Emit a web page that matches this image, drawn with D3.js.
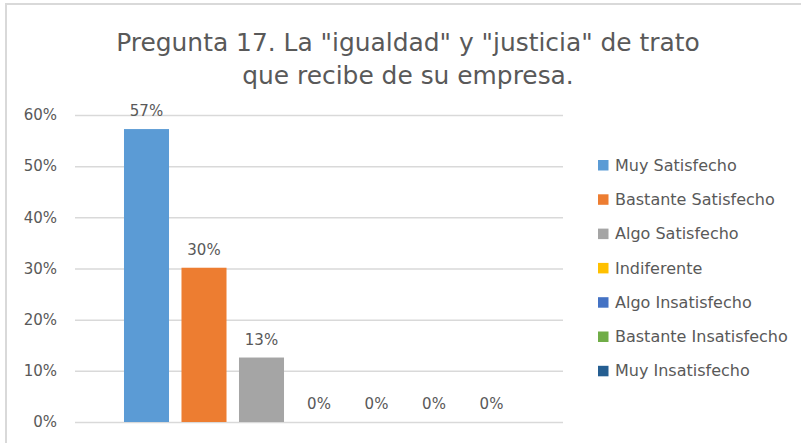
<!DOCTYPE html>
<html>
<head>
<meta charset="utf-8">
<script src="https://cdn.jsdelivr.net/npm/d3@7/dist/d3.min.js"></script>
<style>
  html, body { margin: 0; padding: 0; background: #fff; }
  svg { display: block; }
</style>
</head>
<body>
<svg id="chart" width="801" height="443"></svg>
<script>
const titleLines = ['Pregunta 17. La "igualdad" y "justicia" de trato', 'que recibe de su empresa.'];
const seriesNames = ["Muy Satisfecho", "Bastante Satisfecho", "Algo Satisfecho", "Indiferente", "Algo Insatisfecho", "Bastante Insatisfecho", "Muy Insatisfecho"];
const seriesValues = [0.5725, 0.3015, 0.126, 0, 0, 0, 0];
const seriesLabels = ["57%", "30%", "13%", "0%", "0%", "0%", "0%"];
const seriesColors = ["#5B9BD5", "#ED7D31", "#A5A5A5", "#FFC000", "#4472C4", "#70AD47", "#255E91"];
const yTicks = [0, 0.1, 0.2, 0.3, 0.4, 0.5, 0.6];

const W = 801, H = 443;
const FONT = "'DejaVu Sans', sans-serif";
const TEXT = "#595959";
const svg = d3.select("#chart");

// chart frame
svg.append("rect").attr("x", 6).attr("y", 4).attr("width", W + 10).attr("height", H + 10)
  .attr("fill", "#fff").attr("stroke", "#D9D9D9").attr("stroke-width", 2);

// title
const title = svg.append("text").attr("text-anchor", "middle")
  .attr("font-family", FONT).attr("font-size", 24.9).attr("fill", TEXT);
titleLines.forEach((t, i) => {
  title.append("tspan").attr("x", 408).attr("y", 51 + i * 33).text(t);
});

const plot = { left: 75, right: 563, top: 115, bottom: 422 };
const y = d3.scaleLinear().domain([0, 0.6]).range([plot.bottom, plot.top]);
const x = d3.scaleBand().domain(seriesNames).range([plot.left, plot.right])
  .paddingInner(0.217).paddingOuter(0.852);

// gridlines
const yAxis = d3.axisLeft(y).tickValues(yTicks).tickFormat(d3.format(".0%"))
  .tickSize(-(plot.right - plot.left)).tickPadding(18);
const ga = svg.append("g").attr("transform", `translate(${plot.left},0)`).call(yAxis);
ga.select(".domain").remove();
ga.selectAll(".tick line").attr("stroke", "#D9D9D9").attr("stroke-width", 1.5);
ga.selectAll(".tick text").attr("font-family", FONT).attr("font-size", 15).attr("fill", TEXT);

// bars
svg.append("g").selectAll("rect").data(seriesNames).join("rect")
  .attr("x", d => x(d))
  .attr("width", x.bandwidth())
  .attr("y", (d, i) => y(seriesValues[i]))
  .attr("height", (d, i) => plot.bottom - y(seriesValues[i]))
  .attr("fill", (d, i) => seriesColors[i]);

// data labels
svg.append("g").selectAll("text").data(seriesNames).join("text")
  .attr("x", d => x(d) + x.bandwidth() / 2)
  .attr("y", (d, i) => y(seriesValues[i]) - 13)
  .attr("text-anchor", "middle")
  .attr("font-family", FONT).attr("font-size", 15).attr("fill", TEXT)
  .text((d, i) => seriesLabels[i]);

// legend
const leg = svg.append("g").attr("transform", "translate(598,165)");
const li = leg.selectAll("g").data(seriesNames).join("g")
  .attr("transform", (d, i) => `translate(0,${i * 34.3})`);
li.append("rect").attr("x", 0).attr("y", -5).attr("width", 10.5).attr("height", 10.5)
  .attr("fill", (d, i) => seriesColors[i]);
li.append("text").attr("x", 17).attr("y", 0).attr("dy", "0.35em")
  .attr("font-family", FONT).attr("font-size", 16).attr("fill", TEXT)
  .text(d => d);
</script>
</body>
</html>
